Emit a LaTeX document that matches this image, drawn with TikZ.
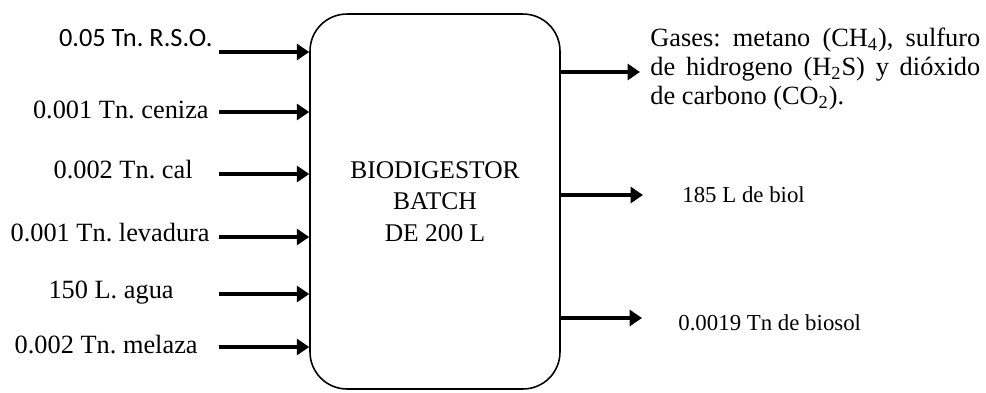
\documentclass[tikz,border=0pt]{standalone}
\usepackage{fontspec}
\setmainfont{Liberation Serif}
\newfontfamily\calfont{Carlito}
\usetikzlibrary{arrows.meta}

\begin{document}
\frenchspacing
\begin{tikzpicture}[x=0.02cm, y=-0.02cm,
  flow/.style={line width=2.8pt, -{Triangle[length=7pt, width=9pt]}},
  inlab/.style={anchor=east, inner sep=0pt, font=\fontsize{15}{17}\selectfont},
  outlab/.style={anchor=west, inner sep=0pt, font=\fontsize{13}{15}\selectfont}]
\useasboundingbox (0,0) rectangle (986,392);
\node[draw, line width=0.9pt, rounded corners=21pt, minimum width=5cm, minimum height=7.5cm, align=center, font=\fontsize{14.5}{18}\selectfont] (box) at (435,201.5) {BIODIGESTOR\\BATCH\\DE 200 L};
\node[inlab, font=\calfont\fontsize{15}{17}\selectfont] (rso) at (213,38) {0.05 Tn. R.S.O.};
\node[inlab] (ceniza) at (209,110) {0.001 Tn. ceniza};
\node[inlab] (cal) at (193,170) {0.002 Tn. cal};
\node[inlab] (levadura) at (210,233) {0.001 Tn. levadura};
\node[inlab] (agua) at (174,293) {150 L. agua};
\node[inlab] (melaza) at (198,345) {0.002 Tn. melaza};
\coordinate (in1) at (219,52);
\coordinate (in2) at (219,112);
\coordinate (in3) at (219,174);
\coordinate (in4) at (219,237);
\coordinate (in5) at (219,294);
\coordinate (in6) at (219,347);
\draw[flow] (in1) -- (in1 -| box.west);
\draw[flow] (in2) -- (in2 -| box.west);
\draw[flow] (in3) -- (in3 -| box.west);
\draw[flow] (in4) -- (in4 -| box.west);
\draw[flow] (in5) -- (in5 -| box.west);
\draw[flow] (in6) -- (in6 -| box.west);
\node[anchor=north west, inner sep=0pt, text width=6.6cm, align=justify, font=\fontsize{15}{16.4}\selectfont] (gases) at (650,28) {\hyphenpenalty=10000 Gases: metano (CH\textsubscript{4}), sulfuro\linebreak de hidrogeno (H\textsubscript{2}S) y dióxido\linebreak de carbono (CO\textsubscript{2}).};
\node[outlab] (biol) at (682,195) {185 L de biol};
\node[outlab] (biosol) at (678,323) {0.0019 Tn de biosol};
\coordinate (out1) at (640,72);
\coordinate (out2) at (643,195);
\coordinate (out3) at (642,318);
\draw[flow] (out1 -| box.east) -- (out1);
\draw[flow] (out2 -| box.east) -- (out2);
\draw[flow] (out3 -| box.east) -- (out3);
\end{tikzpicture}
\end{document}
